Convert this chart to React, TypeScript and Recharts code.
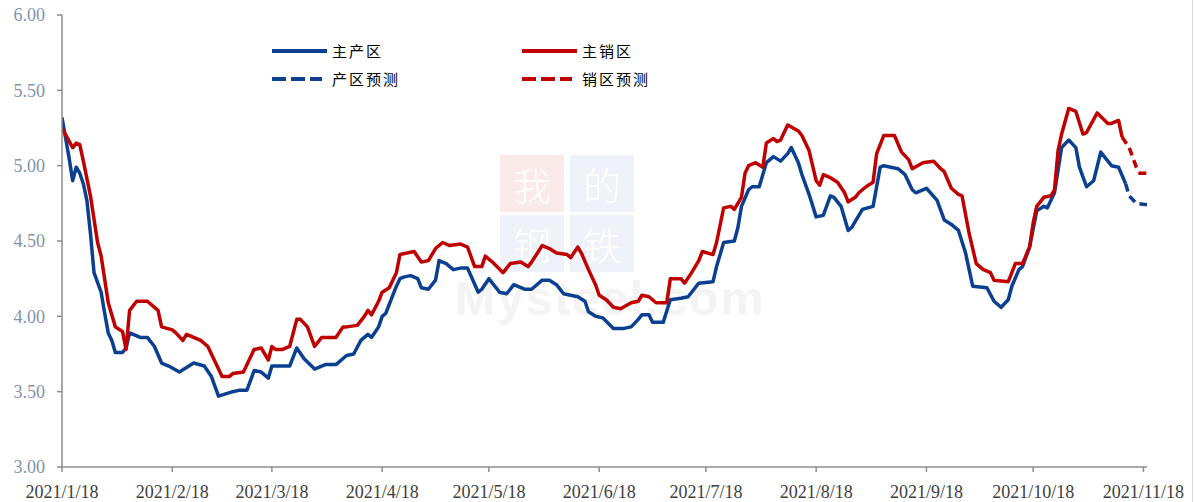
import React from 'react';
import { LineChart, Line, XAxis, YAxis } from 'recharts';

// Day offsets from 2021/1/18
const xTickDays = [0, 31, 59, 90, 120, 151, 181, 212, 243, 273, 304];
const xTickLabels = ['2021/1/18', '2021/2/18', '2021/3/18', '2021/4/18', '2021/5/18', '2021/6/18', '2021/7/18', '2021/8/18', '2021/9/18', '2021/10/18', '2021/11/18'];
const yTicks = [3, 3.5, 4, 4.5, 5, 5.5, 6];

// 主产区 (actual)
const prodDays = [0, 2, 3, 4, 5, 6, 7, 8, 9, 11, 12, 13, 14, 15, 17, 18, 19, 22, 24, 26, 28, 30, 33, 37, 40, 42, 44, 48, 50, 52, 54, 56, 58, 59, 64, 66, 68, 71, 74, 77, 80, 82, 84, 86, 87, 89, 90, 91, 92, 94, 95, 96, 98, 100, 101, 103, 105, 106, 108, 110, 112, 114, 117, 118, 120, 123, 125, 127, 130, 132, 135, 137, 139, 141, 145, 147, 148, 150, 152, 155, 158, 160, 162, 163, 165, 166, 169, 171, 174, 176, 177, 179, 183, 184, 186, 189, 190, 191, 193, 194, 196, 198, 200, 202, 204, 205, 207, 208, 210, 212, 214, 216, 217, 219, 221, 222, 225, 228, 230, 231, 235, 237, 239, 240, 243, 246, 248, 250, 252, 254, 256, 260, 262, 264, 266, 267, 269, 270, 272, 274, 276, 277, 279, 281, 283, 285, 286, 288, 290, 292, 295, 297, 299];
const prodValues = [5.32, 5.05, 4.90, 4.99, 4.95, 4.88, 4.77, 4.55, 4.29, 4.16, 4.02, 3.89, 3.84, 3.76, 3.76, 3.79, 3.89, 3.86, 3.86, 3.80, 3.69, 3.67, 3.63, 3.69, 3.67, 3.60, 3.47, 3.50, 3.51, 3.51, 3.64, 3.63, 3.59, 3.67, 3.67, 3.79, 3.72, 3.65, 3.68, 3.68, 3.74, 3.75, 3.84, 3.88, 3.86, 3.93, 4.00, 4.02, 4.08, 4.20, 4.25, 4.26, 4.27, 4.25, 4.19, 4.18, 4.24, 4.37, 4.35, 4.31, 4.32, 4.32, 4.16, 4.18, 4.25, 4.16, 4.15, 4.21, 4.18, 4.18, 4.24, 4.24, 4.21, 4.15, 4.13, 4.10, 4.03, 4.00, 3.99, 3.92, 3.92, 3.93, 3.98, 4.01, 4.01, 3.96, 3.96, 4.11, 4.12, 4.13, 4.16, 4.22, 4.23, 4.33, 4.49, 4.50, 4.59, 4.73, 4.84, 4.86, 4.86, 5.02, 5.06, 5.03, 5.08, 5.12, 5.02, 4.94, 4.81, 4.66, 4.67, 4.80, 4.79, 4.73, 4.57, 4.59, 4.71, 4.73, 4.99, 5.00, 4.98, 4.94, 4.84, 4.82, 4.85, 4.77, 4.64, 4.61, 4.57, 4.42, 4.20, 4.19, 4.10, 4.06, 4.11, 4.20, 4.31, 4.33, 4.46, 4.70, 4.73, 4.72, 4.82, 5.12, 5.17, 5.12, 4.99, 4.86, 4.90, 5.09, 5.00, 4.99, 4.88];

// 产区预测
const prodFcDays = [299, 300, 302, 305];
const prodFcValues = [4.88, 4.80, 4.75, 4.74];

// 主销区 (actual)
const saleDays = [0, 3, 4, 5, 6, 8, 10, 11, 13, 15, 17, 18, 19, 21, 24, 26, 27, 28, 31, 32, 34, 35, 39, 41, 43, 45, 47, 48, 51, 54, 56, 58, 59, 60, 62, 64, 66, 67, 69, 71, 73, 77, 79, 80, 83, 85, 86, 87, 89, 90, 92, 94, 95, 97, 99, 101, 103, 105, 107, 109, 112, 114, 116, 118, 119, 121, 124, 126, 129, 131, 132, 135, 137, 139, 142, 143, 145, 146, 148, 149, 150, 151, 153, 155, 157, 160, 162, 163, 165, 167, 170, 171, 174, 175, 177, 179, 180, 183, 184, 186, 188, 189, 191, 192, 193, 195, 197, 198, 200, 201, 202, 204, 207, 208, 210, 212, 213, 214, 216, 218, 220, 221, 223, 224, 226, 228, 229, 231, 234, 236, 238, 239, 242, 245, 247, 248, 250, 252, 253, 255, 257, 259, 261, 262, 266, 268, 270, 272, 273, 274, 276, 278, 279, 280, 281, 283, 285, 287, 288, 291, 294, 295, 297, 298];
const saleValues = [5.25, 5.12, 5.15, 5.14, 5.03, 4.80, 4.49, 4.40, 4.09, 3.93, 3.90, 3.78, 4.04, 4.10, 4.10, 4.06, 4.04, 3.93, 3.91, 3.89, 3.84, 3.88, 3.84, 3.80, 3.70, 3.60, 3.60, 3.62, 3.63, 3.78, 3.79, 3.71, 3.80, 3.78, 3.78, 3.80, 3.98, 3.98, 3.93, 3.80, 3.86, 3.86, 3.93, 3.93, 3.94, 4.00, 4.04, 4.01, 4.10, 4.16, 4.19, 4.29, 4.41, 4.42, 4.43, 4.36, 4.37, 4.45, 4.49, 4.47, 4.48, 4.46, 4.33, 4.33, 4.40, 4.36, 4.29, 4.35, 4.36, 4.33, 4.36, 4.47, 4.45, 4.42, 4.41, 4.39, 4.46, 4.42, 4.31, 4.26, 4.21, 4.14, 4.11, 4.06, 4.05, 4.09, 4.10, 4.14, 4.13, 4.09, 4.09, 4.25, 4.25, 4.22, 4.29, 4.37, 4.43, 4.41, 4.49, 4.72, 4.73, 4.71, 4.79, 4.95, 5.00, 5.02, 4.99, 5.15, 5.18, 5.16, 5.17, 5.27, 5.23, 5.20, 5.10, 4.90, 4.87, 4.94, 4.92, 4.89, 4.82, 4.76, 4.79, 4.82, 4.86, 4.89, 5.08, 5.20, 5.20, 5.09, 5.04, 4.98, 5.02, 5.03, 4.98, 4.96, 4.85, 4.81, 4.80, 4.55, 4.35, 4.31, 4.29, 4.24, 4.23, 4.35, 4.35, 4.46, 4.62, 4.73, 4.79, 4.80, 4.84, 5.10, 5.21, 5.38, 5.36, 5.21, 5.22, 5.35, 5.28, 5.28, 5.30, 5.19];

// 销区预测
const saleFcDays = [298, 300, 302, 303, 305];
const saleFcValues = [5.19, 5.12, 4.99, 4.95, 4.95];

const BLUE = '#0b3f8f';
const RED = '#c00000';

const zip = (days: number[], vals: number[]) => days.map((d, i) => ({ d, v: vals[i] }));
const prodData = zip(prodDays, prodValues);
const prodFcData = zip(prodFcDays, prodFcValues);
const saleData = zip(saleDays, saleValues);
const saleFcData = zip(saleFcDays, saleFcValues);

const legendItems = [
  { name: '主产区', color: BLUE, dash: undefined as string | undefined },
  { name: '主销区', color: RED, dash: undefined as string | undefined },
  { name: '产区预测', color: BLUE, dash: '14 5' },
  { name: '销区预测', color: RED, dash: '14 5' },
];

const LegendBlock = () => (
  <div style={{ position: 'absolute', left: 272, top: 37, display: 'grid', gridTemplateColumns: '250px 200px' }}>
    {legendItems.map((it) => (
      <div key={it.name} style={{ display: 'flex', alignItems: 'center', height: 28 }}>
        <svg width={56} height={10} style={{ display: 'block' }}>
          <line x1={0} y1={5} x2={it.dash ? 50 : 55} y2={5} stroke={it.color} strokeWidth={4} strokeDasharray={it.dash} />
        </svg>
        <span style={{ marginLeft: 4, fontFamily: '"Noto Sans CJK SC", sans-serif', fontSize: 15, letterSpacing: 2, color: '#000', lineHeight: '28px' }}>{it.name}</span>
      </div>
    ))}
  </div>
);

const wmBox = (bg: string): React.CSSProperties => ({
  position: 'absolute', width: 64, height: 57, background: bg, color: '#fff',
  display: 'flex', alignItems: 'center', justifyContent: 'center', overflow: 'hidden',
});
const wmChar: React.CSSProperties = {
  fontFamily: '"Noto Sans CJK SC", sans-serif', fontSize: 38, lineHeight: '40px', fontWeight: 300,
};

export default function App() {
  return (
    <div style={{ position: 'absolute', left: 0, top: 0, width: 1195, height: 502, background: '#fff', overflow: 'hidden' }}>
      {/* watermark */}
      <div style={{ ...wmBox('#fbeaea'), left: 500, top: 155 }}><span style={wmChar}>我</span></div>
      <div style={{ ...wmBox('#eff2f8'), left: 570, top: 155 }}><span style={wmChar}>的</span></div>
      <div style={{ ...wmBox('#eff2f8'), left: 500, top: 215 }}><span style={wmChar}>钢</span></div>
      <div style={{ ...wmBox('#eff2f8'), left: 570, top: 215 }}><span style={wmChar}>铁</span></div>
      <div style={{ position: 'absolute', left: 455, top: 277, fontFamily: 'Arial, "Liberation Sans", sans-serif', fontWeight: 700, fontSize: 48, lineHeight: '44px', color: '#f4f4f4', letterSpacing: 2 }}>Mysteel.com</div>
      <div style={{ position: 'absolute', left: 1192, top: 0, width: 1, height: 502, background: '#d9d9d9' }} />
      <div style={{ position: 'absolute', left: 0, top: 0 }}>
        <LineChart width={1195} height={502} margin={{ top: 15, right: 48, left: 0, bottom: 0 }}>
          <XAxis
            dataKey="d"
            type="number"
            domain={[0, 305]}
            ticks={xTickDays}
            interval={0}
            tickFormatter={(v: number) => xTickLabels[xTickDays.indexOf(v)] ?? ''}
            height={35}
            tickSize={5}
            tickMargin={13}
            axisLine={{ stroke: '#8c8c8c', strokeWidth: 1.5 }}
            tickLine={{ stroke: '#8c8c8c', strokeWidth: 1.5 }}
            tick={{ fill: '#404040', fontSize: 18, fontFamily: '"Liberation Serif", "Times New Roman", serif' }}
            allowDataOverflow
          />
          <YAxis
            type="number"
            domain={[3, 6]}
            ticks={yTicks}
            interval={0}
            width={62}
            tickSize={5}
            tickMargin={12}
            tickFormatter={(v: number) => v.toFixed(2)}
            axisLine={{ stroke: '#8c8c8c', strokeWidth: 1.5 }}
            tickLine={{ stroke: '#8c8c8c', strokeWidth: 1.5 }}
            tick={{ fill: '#8193ad', fontSize: 18, fontFamily: '"Liberation Serif", "Times New Roman", serif' }}
          />
          <Line data={prodData} dataKey="v" name="主产区" stroke={BLUE} strokeWidth={3.5} dot={false} isAnimationActive={false} type="linear" strokeLinejoin="round" />
          <Line data={saleData} dataKey="v" name="主销区" stroke={RED} strokeWidth={3.5} dot={false} isAnimationActive={false} type="linear" strokeLinejoin="round" />
          <Line data={prodFcData} dataKey="v" name="产区预测" stroke={BLUE} strokeWidth={3.5} strokeDasharray="8 5" dot={false} isAnimationActive={false} type="linear" />
          <Line data={saleFcData} dataKey="v" name="销区预测" stroke={RED} strokeWidth={3.5} strokeDasharray="8 5" dot={false} isAnimationActive={false} type="linear" />
        </LineChart>
      </div>
      <LegendBlock />
    </div>
  );
}
